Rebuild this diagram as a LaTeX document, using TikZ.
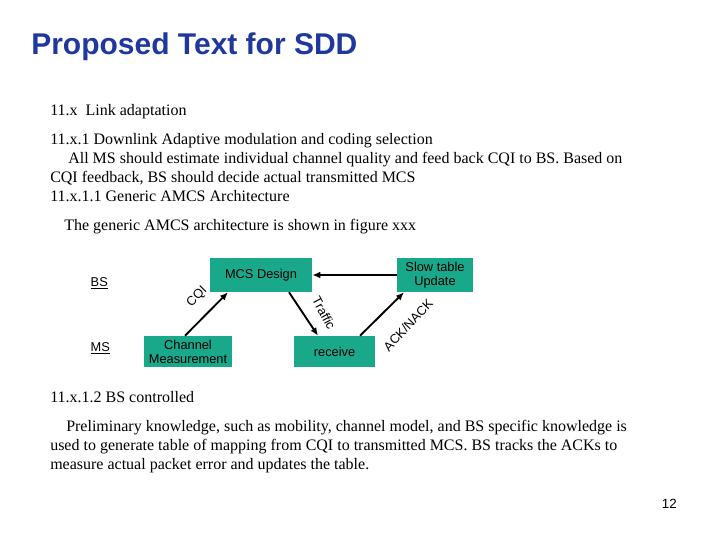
\documentclass[tikz,border=0pt]{standalone}
\usepackage{fontspec}
\setmainfont{Liberation Serif}
\setsansfont{Liberation Sans}
\usetikzlibrary{arrows.meta}
\begin{document}
\begin{tikzpicture}[x=0.75pt,y=-0.75pt,
  box/.style={draw=none,fill=boxc,inner sep=0,font=\sffamily\fontsize{9.6}{10.5}\selectfont,align=center},
  arr/.style={-{Latex[length=6pt,width=5pt]},line width=1.4pt},
  lbl/.style={font=\sffamily\fontsize{9.6}{10.5}\selectfont},
  txt/.style={anchor=base west,inner sep=0,font=\fontsize{12}{14}\selectfont}]
\definecolor{boxc}{RGB}{26,168,138}
\definecolor{titlec}{RGB}{31,56,158}
\useasboundingbox (0,0) rectangle (720,540);
\node[anchor=base west,inner sep=0,text=titlec,font=\sffamily\bfseries\fontsize{22.5}{26}\selectfont] (title) at (31,54) {Proposed Text for SDD};
\node[txt] (t1) at (50,115) {11.x\ \ Link adaptation};
\node[txt] (t2) at (50,144) {11.x.1 Downlink Adaptive modulation and coding selection};
\node[txt] (t3) at (68,163) {All MS should estimate individual channel quality and feed back CQI to BS. Based on};
\node[txt] (t4) at (50,182) {CQI feedback, BS should decide actual transmitted MCS};
\node[txt] (t5) at (50,201) {11.x.1.1 Generic AMCS Architecture};
\node[txt] (t6) at (64,230) {The generic AMCS architecture is shown in figure xxx};
\node[box,minimum width=102*0.75pt,minimum height=34*0.75pt] (mcs) at (261,275) {MCS Design};
\node[box,minimum width=76*0.75pt,minimum height=34*0.75pt] (slow) at (435,275) {Slow table\\Update};
\node[box,minimum width=88*0.75pt,minimum height=31*0.75pt] (ch) at (188,351.5) {Channel\\Measurement};
\node[box,minimum width=81*0.75pt,minimum height=31*0.75pt] (rec) at (334.5,351.5) {receive};
\node[lbl,anchor=west] (bs) at (86,283) {\underline{BS}};
\node[lbl,anchor=west] (ms) at (86,348) {\underline{MS}};
\draw[arr] (ch.north -| 185,0) -- (mcs.south -| 228,0);
\draw[arr] (mcs.south -| 289,0) -- (rec.north -| 318,0);
\draw[arr] (rec.north -| 360,0) -- (slow.south -| 404,0);
\draw[arr] (slow.west) -- (mcs.east);
\node[lbl,rotate=45] (cqi) at (197,297) {CQI};
\node[lbl,rotate=-62] (traf) at (324,313) {Traffic};
\node[lbl,rotate=47] (ack) at (408,325) {ACK/NACK};
\node[txt] (t7) at (50,402) {11.x.1.2 BS controlled};
\node[txt] (t8) at (66,431) {Preliminary knowledge, such as mobility, channel model, and BS specific knowledge is};
\node[txt] (t9) at (50,450) {used to generate table of mapping from CQI to transmitted MCS. BS tracks the ACKs to};
\node[txt] (t10) at (50,469) {measure actual packet error and updates the table.};
\node[anchor=base east,inner sep=0,font=\sffamily\fontsize{10}{12}\selectfont] (pg) at (677,508) {12};
\end{tikzpicture}
\end{document}
